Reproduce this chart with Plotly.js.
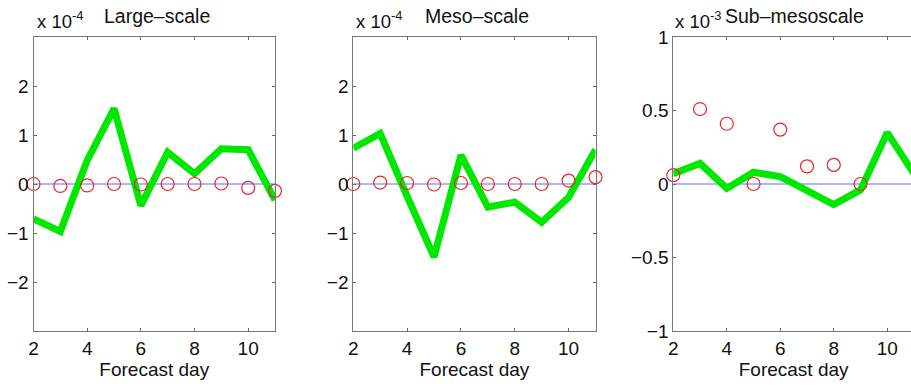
<!DOCTYPE html>
<html>
<head>
<meta charset="utf-8">
<script src="https://cdn.plot.ly/plotly-3.0.1.min.js"></script>
<style>
html,body{margin:0;padding:0;overflow:hidden;background:#fff;}
#chart{width:915px;height:386px;}
</style>
</head>
<body>
<div id="chart"></div>
<script>
// Forecast days
const days = [2, 3, 4, 5, 6, 7, 8, 9, 10, 11];

// Large-scale (x 10^-4)
const largeGreen = [-0.71, -0.97, 0.48, 1.54, -0.44, 0.65, 0.21, 0.72, 0.70, -0.33];
const largeRed   = [0.00, -0.04, -0.03, 0.00, -0.01, 0.00, 0.00, 0.01, -0.08, -0.14];

// Meso-scale (x 10^-4)
const mesoGreen = [0.73, 1.03, -0.25, -1.49, 0.59, -0.47, -0.37, -0.78, -0.27, 0.70];
const mesoRed   = [0.00, 0.03, 0.02, -0.01, 0.02, 0.00, 0.00, 0.00, 0.07, 0.14];

// Sub-mesoscale (x 10^-3)
const subGreen = [0.07, 0.14, -0.03, 0.08, 0.05, -0.05, -0.14, -0.04, 0.35, 0.07];
const subRedDays = [2, 3, 4, 5, 6, 7, 8, 9];
const subRed   = [0.06, 0.51, 0.41, 0.00, 0.37, 0.12, 0.13, 0.00];

const zeroLine = [0, 0, 0, 0, 0, 0, 0, 0, 0, 0];

const panelTitles = ['Large–scale', 'Meso–scale', 'Sub–mesoscale'];
const scaleLabels = ['x 10<sup>-4</sup>', 'x 10<sup>-4</sup>', 'x 10<sup>-3</sup>'];
const xTicks = [2, 4, 6, 8, 10];
const yTicks1 = [-2, -1, 0, 1, 2];
const yTicks3 = [-1, -0.5, 0, 0.5, 1];
const xLabel = 'Forecast day';

const W = 915, H = 386;
const GREEN = 'rgb(0,232,0)';
const BLUE = 'rgb(100,100,255)';
const RED = 'rgb(230,40,40)';
const FONT = '"Liberation Sans", Arial, Helvetica, sans-serif';
const FS = 19;

function panel(xa, ya, xs, green, rxs, red) {
  return [
    {x: xs, y: zeroLine, xaxis: xa, yaxis: ya, mode: 'lines',
     line: {color: BLUE, width: 1}, hoverinfo: 'skip', showlegend: false},
    {x: xs, y: green, xaxis: xa, yaxis: ya, mode: 'lines',
     line: {color: GREEN, width: 7}, showlegend: false},
    {x: rxs, y: red, xaxis: xa, yaxis: ya, mode: 'markers', cliponaxis: false,
     marker: {symbol: 'circle-open', size: 13, color: RED, line: {width: 1.2, color: RED}},
     showlegend: false}
  ];
}

const data = [].concat(
  panel('x', 'y', days, largeGreen, days, largeRed),
  panel('x2', 'y2', days, mesoGreen, days, mesoRed),
  panel('x3', 'y3', days, subGreen, subRedDays, subRed)
);

const px = v => v / W;
const py = v => 1 - v / H;
const yDom = [py(331), py(37)];

function xaxis(d0, d1, anchor) {
  return {
    domain: [px(d0), px(d1)], anchor: anchor, range: [2, 11],
    tickvals: xTicks, ticks: 'inside', ticklen: 3, tickcolor: '#666',
    showline: true, linecolor: '#777', linewidth: 1, mirror: 'ticks',
    showgrid: false, zeroline: false, automargin: false,
    tickfont: {family: FONT, size: FS, color: '#111'},
    title: {text: xLabel, font: {family: FONT, size: FS, color: '#111'}, standoff: 2}
  };
}
function yaxis(anchor, range, tv) {
  return {
    domain: yDom, anchor: anchor, range: range,
    tickvals: tv, ticks: 'inside', ticklen: 3, tickcolor: '#666',
    showline: true, linecolor: '#777', linewidth: 1, mirror: 'ticks',
    showgrid: false, zeroline: false, automargin: false,
    tickfont: {family: FONT, size: FS, color: '#111'}
  };
}

const ann = [];
const annPos = [[35, 101.7], [354.3, 422.7], [673.3, 723]];
for (let i = 0; i < 3; i++) {
  ann.push({xref: 'paper', yref: 'paper', x: px(annPos[i][0]), y: py(20),
    xanchor: 'left', yanchor: 'middle', showarrow: false, text: scaleLabels[i],
    font: {family: FONT, size: 18.5, color: '#111'}});
  ann.push({xref: 'paper', yref: 'paper', x: px(annPos[i][1]), y: py(15.5),
    xanchor: 'left', yanchor: 'middle', showarrow: false, text: panelTitles[i],
    font: {family: FONT, size: 19.5, color: '#111'}});
}

const layout = {
  width: W, height: H,
  margin: {l: 0, r: 0, t: 0, b: 0, pad: 0},
  paper_bgcolor: '#fff', plot_bgcolor: '#fff',
  showlegend: false,
  xaxis: xaxis(33.5, 275, 'y'),
  yaxis: yaxis('x', [-3, 3], yTicks1),
  xaxis2: xaxis(353.3, 595.5, 'y2'),
  yaxis2: yaxis('x2', [-3, 3], yTicks1),
  xaxis3: xaxis(673.3, 914, 'y3'),
  yaxis3: yaxis('x3', [-1, 1], yTicks3),
  annotations: ann
};

Plotly.newPlot('chart', data, layout, {staticPlot: true, displayModeBar: false});
</script>
</body>
</html>
